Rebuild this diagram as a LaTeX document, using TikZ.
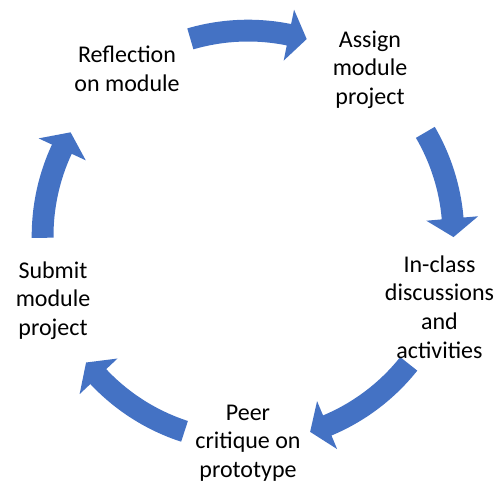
\documentclass[tikz,border=0pt]{standalone}
\usepackage{fontspec}
\setmainfont{Carlito}
\definecolor{arrowblue}{HTML}{4472C4}
\tikzset{
  lbl/.style={align=center, inner sep=0pt, font=\fontsize{18}{21.5}\selectfont},
  cyclefill/.style={fill=arrowblue, draw=none}
}
% #1 tail angle, #2 head base angle, #3 tip angle (math orientation)
\newcommand{\cyclearrow}[3]{%
  \fill[cyclefill] (#1:216.3) arc[start angle=#1, end angle=#2, radius=216.3]
    -- (#2:231) -- (#3:205.5) -- (#2:179) -- (#2:194.5)
    arc[start angle=#2, end angle=#1, radius=194.5] -- cycle;}
\begin{document}
\begin{tikzpicture}[x=0.75pt, y=-0.75pt]
\useasboundingbox (0,0) rectangle (504,484);
\begin{scope}[shift={(248,236)}, yscale=-1]
  \cyclearrow{106.3}{78.5}{73.4}
  \cyclearrow{30.3}{4.9}{-0.3}
  \cyclearrow{-38.5}{-67.3}{-72.4}
  \cyclearrow{-108}{-136.8}{-142}
  \cyclearrow{180.5}{155}{149.7}
\end{scope}
\node[lbl] (reflect) at (127,71.6) {\strut Reflection\\\strut on module};
\node[lbl] (assign) at (370,70) {\strut Assign\\\strut module\\\strut project};
\node[lbl] (inclass) at (439.5,309.3) {\strut In-class\\\strut discussions\\\strut and\\\strut activities};
\node[lbl] (peer) at (248,443) {\strut Peer\\\strut critique on\\\strut prototype};
\node[lbl] (submit) at (53,301) {\strut Submit\\\strut module\\\strut project};
\end{tikzpicture}
\end{document}
